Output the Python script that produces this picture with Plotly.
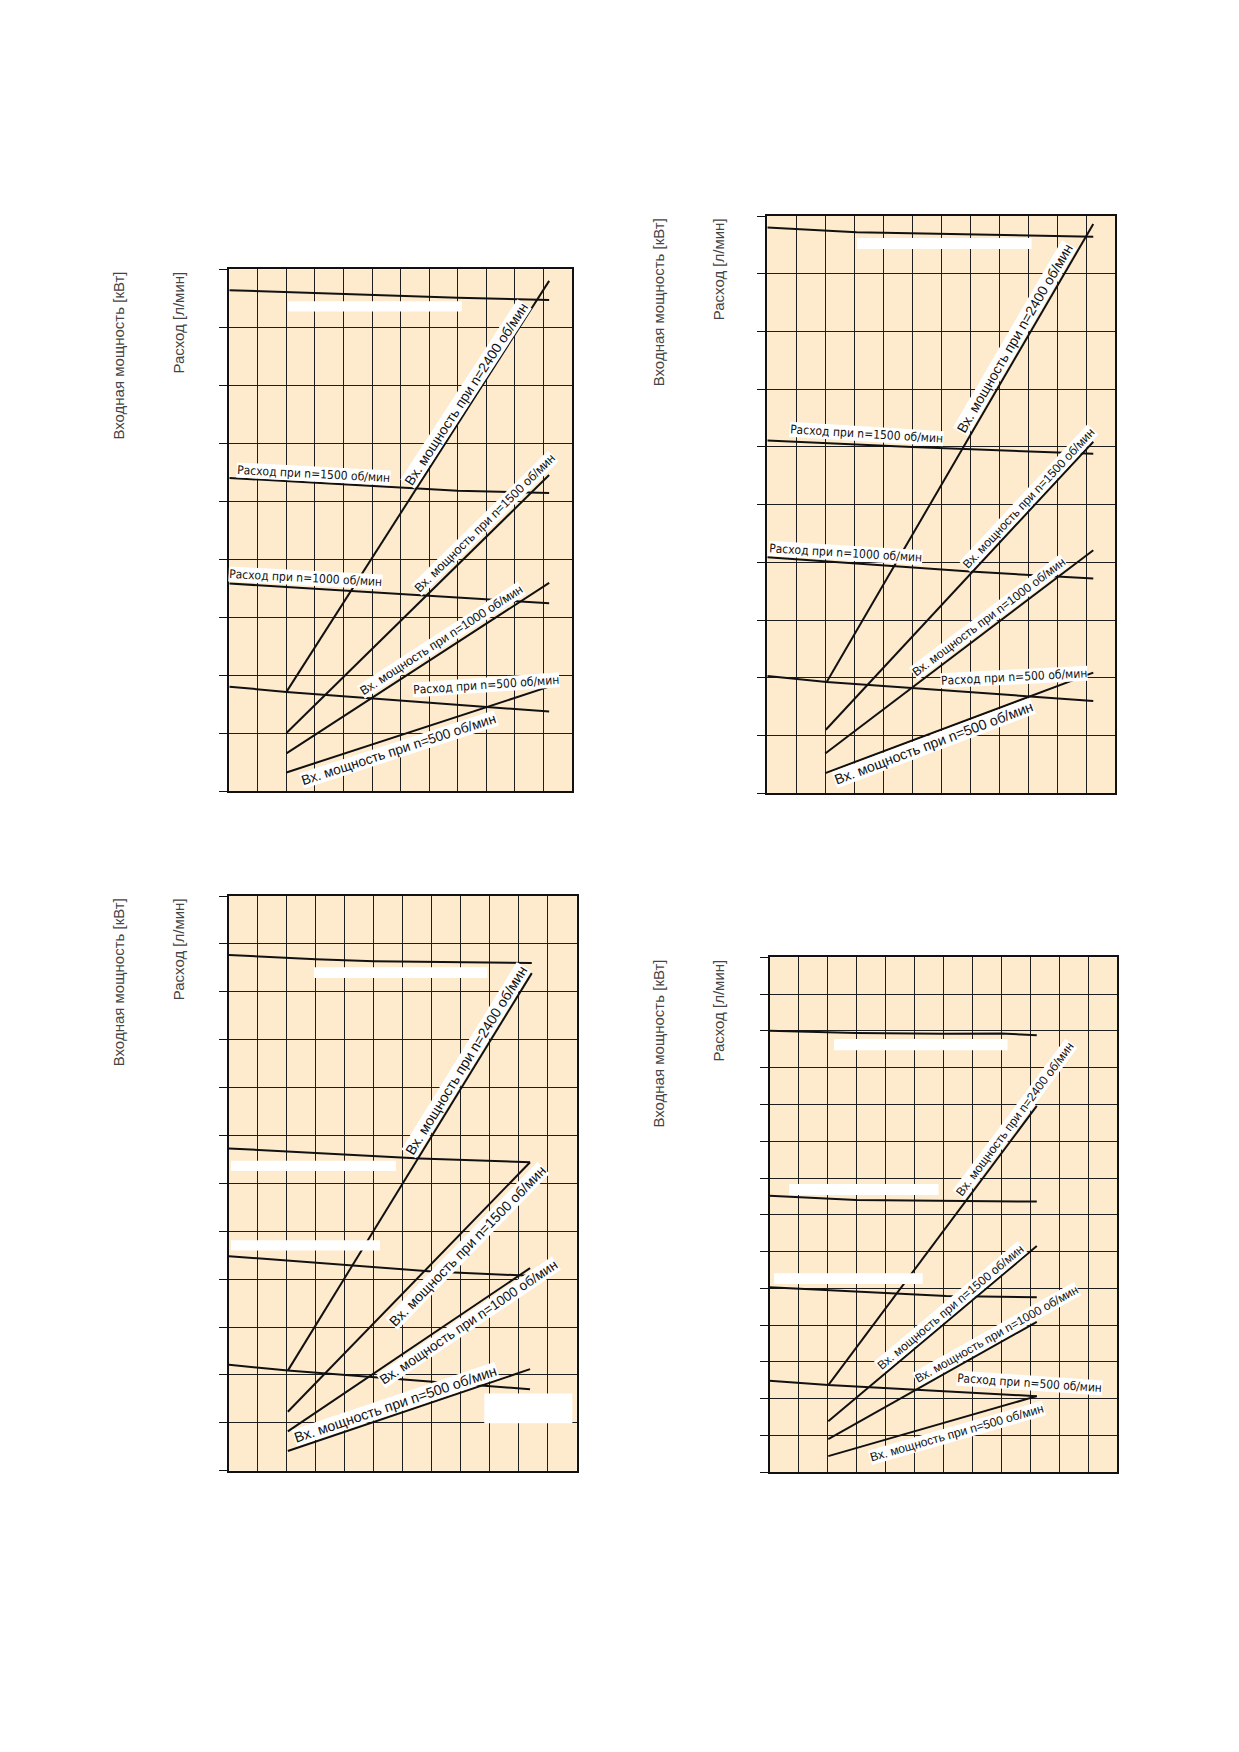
import plotly.graph_objects as go

W, H = 1239, 1752
PAD = 8  # отступ body страницы
FW, FH = W - 2 * PAD, H - 2 * PAD

# Тексты
TITLE_POWER = "Входная мощность [кВт]"
TITLE_FLOW = "Расход [л/мин]"
FLOW_TXT = {1500: "Расход при n=1500 об/мин",
            1000: "Расход при n=1000 об/мин",
            500: "Расход при n=500 об/мин"}
POWER_TXT = {2400: "Вх. мощность при n=2400 об/мин",
             1500: "Вх. мощность при n=1500 об/мин",
             1000: "Вх. мощность при n=1000 об/мин",
             500: "Вх. мощность при n=500 об/мин"}

# Панель 1 (верх слева), сетка 12 x 9
p1_flow_top = [(0, 8.64), (4, 8.57), (8, 8.51), (11.2, 8.47)]
p1_flow_1500 = [(0, 5.40), (4, 5.29), (8, 5.18), (11.2, 5.14)]
p1_flow_1000 = [(0, 3.58), (6, 3.40), (11.2, 3.24)]
p1_flow_500 = [(0, 1.80), (2, 1.71), (11.2, 1.37)]
p1_power_2400 = [(2, 1.71), (11.2, 8.80)]
p1_power_1500 = [(2, 1.00), (11.2, 5.45)]
p1_power_1000 = [(2, 0.65), (11.2, 3.59)]
p1_power_500 = [(2, 0.32), (11.2, 1.80)]

# Панель 2 (верх справа), сетка 12 x 10
p2_flow_top = [(0, 9.80), (3.08, 9.72), (11.25, 9.64)]
p2_flow_1500 = [(0, 6.11), (5, 6.00), (11.25, 5.88)]
p2_flow_1000 = [(0, 4.09), (7, 3.84), (11.25, 3.72)]
p2_flow_500 = [(0, 2.03), (2.05, 1.93), (11.25, 1.60)]
p2_power_2400 = [(2.05, 1.93), (11.25, 9.86)]
p2_power_1500 = [(2.02, 1.10), (11.25, 6.09)]
p2_power_1000 = [(2.0, 0.69), (11.25, 4.21)]
p2_power_500 = [(2.0, 0.35), (11.25, 2.09)]

# Панель 3 (низ слева), сетка 12 x 12
p3_flow_top = [(0, 10.77), (3, 10.68), (5, 10.64), (10.45, 10.60)]
p3_flow_1500 = [(0, 6.73), (6.59, 6.52), (10.39, 6.44)]
p3_flow_1000 = [(0, 4.48), (7.0, 4.16), (10.39, 4.07)]
p3_flow_500 = [(0, 2.21), (2.03, 2.09), (10.39, 1.70)]
p3_power_2400 = [(2.03, 2.09), (10.45, 10.39)]
p3_power_1500 = [(2.03, 1.23), (10.39, 6.44)]
p3_power_1000 = [(2.03, 0.82), (10.39, 4.23)]
p3_power_500 = [(2.03, 0.41), (10.39, 2.12)]

# Панель 4 (низ справа), сетка 12 x 14
p4_flow_top = [(0, 12.0), (3, 11.94), (6, 11.92), (8, 11.93), (9.23, 11.88)]
p4_flow_1500 = [(0, 7.52), (3, 7.40), (9.23, 7.36)]
p4_flow_1000 = [(0, 5.03), (6.1, 4.79), (9.23, 4.76)]
p4_flow_500 = [(0, 2.49), (2.03, 2.37), (9.23, 2.07)]
p4_power_2400 = [(2.03, 2.37), (9.23, 9.96)]
p4_power_1500 = [(2.03, 1.39), (9.23, 6.15)]
p4_power_1000 = [(2.03, 0.90), (9.23, 4.09)]
p4_power_500 = [(2.03, 0.44), (9.23, 2.07)]

# Белые плашки (x0, x1, y0, y1)
p1_masks = [(2.06, 8.14, 8.27, 8.45)]
p2_masks = [(3.09, 9.12, 9.43, 9.62)]
p3_masks = [(2.93, 8.92, 10.29, 10.51), (0.07, 5.76, 6.26, 6.47),
            (0.07, 5.21, 4.60, 4.81), (8.81, 11.85, 0.99, 1.61)]
p4_masks = [(2.23, 8.22, 11.47, 11.78), (0.68, 5.84, 7.54, 7.84),
            (0.16, 5.29, 5.12, 5.41)]

# Подписи: (ключ, x, y, угол, размер)
p1_labels = [(("f", 1500), 2.95, 5.47, 3, 12), (("f", 1000), 2.67, 3.67, 3, 12),
             (("p", 2400), 8.29, 6.85, -57, 13.9), (("p", 1500), 8.95, 4.63, -44.5, 12.4),
             (("p", 1000), 7.44, 2.60, -33, 12.4), (("f", 500), 8.98, 1.83, -4, 12),
             (("p", 500), 5.94, 0.71, -18, 13.7)]
p2_labels = [(("f", 1500), 3.43, 6.23, 3.5, 12), (("f", 1000), 2.70, 4.16, 3.5, 12),
             (("p", 2400), 8.55, 7.88, -59.8, 14), (("p", 1500), 9.03, 5.12, -47, 12.1),
             (("p", 1000), 7.65, 3.05, -37, 12.2), (("f", 500), 8.52, 2.02, -3, 12),
             (("p", 500), 5.73, 0.88, -20.6, 14.2)]
p3_labels = [(("p", 2400), 8.20, 8.57, -58.4, 14.2), (("p", 1500), 8.23, 4.69, -45.8, 14.1),
             (("p", 1000), 8.26, 3.10, -34, 13.7), (("p", 500), 5.76, 1.40, -18.6, 14.3)]
p4_labels = [(("p", 2400), 8.48, 9.60, -53.3, 12.2), (("p", 1500), 6.26, 4.50, -40, 12.1),
             (("p", 1000), 7.85, 3.76, -29.4, 12), (("f", 500), 8.98, 2.42, 4, 11.9),
             (("p", 500), 6.46, 1.06, -16, 12.1)]

# Геометрия панелей в пикселях страницы: left, right, top, bottom
panels = [
    dict(box=(229.3, 572.0, 269.3, 791.0), rows=9, outer=160.7, tx=(118.3, 178.3),
         lines=[p1_flow_top, p1_flow_1500, p1_flow_1000, p1_flow_500,
                p1_power_2400, p1_power_1500, p1_power_1000, p1_power_500],
         masks=p1_masks, labels=p1_labels),
    dict(box=(767.3, 1115.0, 216.0, 793.3), rows=10, outer=698.3, tx=(658.3, 718.3),
         lines=[p2_flow_top, p2_flow_1500, p2_flow_1000, p2_flow_500,
                p2_power_2400, p2_power_1500, p2_power_1000, p2_power_500],
         masks=p2_masks, labels=p2_labels),
    dict(box=(229.0, 576.7, 896.0, 1470.7), rows=12, outer=160.7, tx=(118.3, 178.3),
         lines=[p3_flow_top, p3_flow_1500, p3_flow_1000, p3_flow_500,
                p3_power_2400, p3_power_1500, p3_power_1000, p3_power_500],
         masks=p3_masks, labels=p3_labels),
    dict(box=(769.5, 1117.0, 957.3, 1472.3), rows=14, outer=700.0, tx=(658.3, 718.3),
         lines=[p4_flow_top, p4_flow_1500, p4_flow_1000, p4_flow_500,
                p4_power_2400, p4_power_1500, p4_power_1000, p4_power_500],
         masks=p4_masks, labels=p4_labels),
]


def fx(px):
    return (px - PAD) / FW


def fy(py):
    return 1 - (py - PAD) / FH


BG = '#FEEBCD'
FONT = 'Liberation Sans, Arial, sans-serif'
FONT_NARROW = 'DejaVu Sans Condensed, Liberation Sans, Arial, sans-serif'

fig = go.Figure()
layout = dict(width=FW, height=FH, margin=dict(l=0, r=0, t=0, b=0),
              paper_bgcolor='white', plot_bgcolor=BG, showlegend=False)
shapes, annotations = [], []

for i, p in enumerate(panels, start=1):
    left, right, top, bottom = p['box']
    xs = '' if i == 1 else str(i)
    xa, ya = 'xaxis' + xs, 'yaxis' + xs
    layout[xa] = dict(domain=[fx(left), fx(right)], range=[0, 12], dtick=1, tick0=0,
                      anchor='y' + xs, showgrid=True, gridcolor='#1e1e1e', gridwidth=1.3,
                      showticklabels=False, ticks='', zeroline=False,
                      showline=True, mirror=True, linecolor='#111', linewidth=2)
    layout[ya] = dict(domain=[fy(bottom), fy(top)], range=[0, p['rows']], dtick=1,
                      tick0=0, anchor='x' + xs, showgrid=True, gridcolor='#1e1e1e',
                      gridwidth=1.3, showticklabels=False, ticks='outside', ticklen=8,
                      tickcolor='#111', tickwidth=1.3, zeroline=False,
                      showline=True, mirror=True, linecolor='#111', linewidth=2)
    # внешняя ось входной мощности
    layout['yaxis' + str(i + 4)] = dict(overlaying='y' + xs, anchor='free',
                                        position=fx(p['outer']), side='left',
                                        range=[0, p['rows']], dtick=1, tick0=0,
                                        showgrid=False, zeroline=False, showticklabels=False,
                                        ticks='outside', ticklen=8, tickcolor='#8a8a8a',
                                        tickwidth=1.3, showline=True, linecolor='#666',
                                        linewidth=1.5)
    for pts in p['lines']:
        fig.add_trace(go.Scatter(x=[a for a, b in pts], y=[b for a, b in pts],
                                 mode='lines', line=dict(color='#111', width=2),
                                 xaxis='x' + xs, yaxis='y' + xs, hoverinfo='skip'))
    for x0, x1, y0, y1 in p['masks']:
        shapes.append(dict(type='rect', xref='x' + xs, yref='y' + xs,
                           x0=x0, x1=x1, y0=y0, y1=y1, fillcolor='white',
                           line=dict(width=0), layer='above'))
    for (kind, n), x, y, ang, size in p['labels']:
        if kind == 'f':
            txt, fam = FLOW_TXT[n], FONT_NARROW
        else:
            txt, fam = POWER_TXT[n], FONT
        annotations.append(dict(text=txt, x=x, y=y, xref='x' + xs, yref='y' + xs,
                                showarrow=False, textangle=ang,
                                font=dict(family=fam, size=size, color='#111'),
                                bgcolor='white', borderpad=0,
                                xanchor='center', yanchor='middle'))
    for tx, txt in zip(p['tx'], [TITLE_POWER, TITLE_FLOW]):
        annotations.append(dict(text=txt, x=fx(tx), xref='paper', y=1,
                                yref='y' + xs + ' domain', showarrow=False, textangle=-90,
                                xanchor='center', yanchor='top',
                                font=dict(family=FONT, size=15, color='#444')))

layout['shapes'] = shapes
layout['annotations'] = annotations
fig.update_layout(**layout)
fig.write_html("out.html")
